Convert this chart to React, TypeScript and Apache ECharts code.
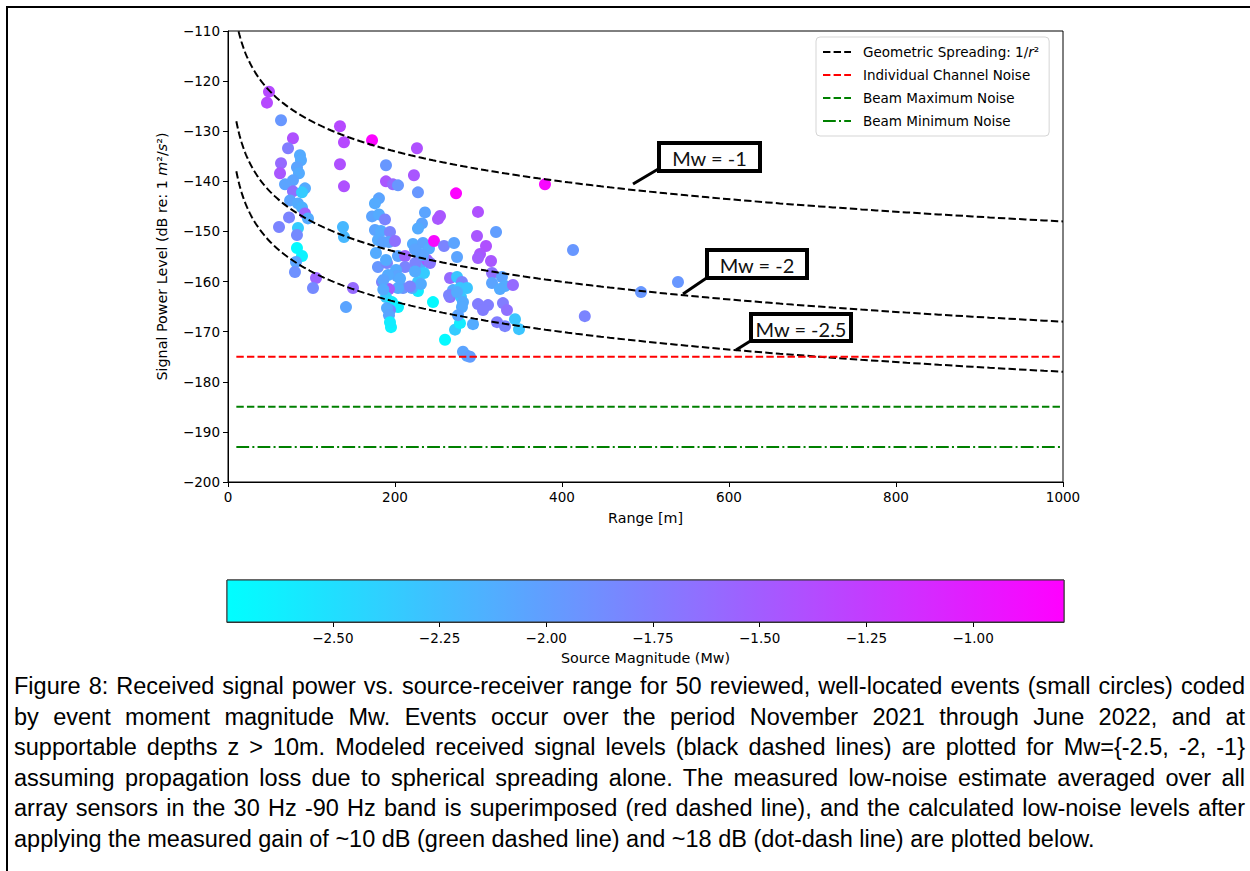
import React, { useEffect, useRef } from "react";
import * as echarts from "echarts";

// ---- event data (range in m, received level in dB, moment magnitude Mw) ----
const rangeM = [
  49.1, 46.7, 63.5, 77.8, 71.9, 86.2, 87.4, 63.5, 82.6, 62.3,
  85.0, 77.8, 68.3, 92.2, 77.8, 88.6, 74.3, 83.8, 88.6, 92.2,
  73.1, 95.8, 61.1, 83.8, 82.6, 82.6, 88.6, 81.4, 80.2, 105.4,
  101.8, 134.1, 138.9, 172.5, 134.1, 138.9, 137.7, 138.9, 149.7, 141.3,
  189.2, 189.2, 197.6, 203.6, 226.3, 222.7, 227.5, 273.1, 379.6, 180.8,
  176.0, 235.9, 172.5, 180.8, 188.0, 232.3, 227.5, 251.5, 253.9, 299.4,
  176.0, 183.2, 194.0, 179.6, 185.6, 192.8, 200.0, 221.5, 233.5, 240.7,
  246.7, 258.7, 270.7, 298.2, 321.0, 309.0, 301.8, 299.4, 315.0, 274.3,
  177.2, 179.6, 190.4, 203.6, 212.0, 227.5, 229.9, 238.3, 241.9, 234.7,
  227.5, 227.5, 220.3, 209.6, 203.6, 212.0, 201.2, 202.4, 191.6, 184.4,
  192.8, 189.2, 196.4, 203.6, 194.0, 190.4, 192.8, 195.2, 194.0, 245.5,
  259.9, 271.9, 277.8, 293.4, 265.9, 274.3, 280.2, 269.5, 277.8, 286.2,
  265.9, 279.0, 281.4, 280.2, 275.5, 299.4, 311.4, 305.4, 316.2, 328.1,
  316.2, 331.7, 325.7, 341.3, 329.3, 334.1, 322.2, 331.7, 343.7, 348.5,
  281.4, 286.2, 289.8, 413.2, 494.6, 538.9, 427.3, 224.3, 231.0, 264.7,
  274.3, 233.5, 189.2, 186.0, 206.0, 218.0, 186.0, 224.0, 224.0,
];
const levelDb = [
  -122.1, -124.3, -127.8, -131.4, -133.4, -134.8, -135.8, -136.4, -137.2, -138.4,
  -138.4, -139.8, -140.6, -141.4, -142.0, -142.2, -143.8, -144.4, -145.2, -146.4,
  -147.2, -147.4, -149.1, -149.3, -150.7, -153.3, -154.9, -156.1, -158.1, -159.3,
  -161.3, -129.0, -132.2, -131.8, -136.6, -141.0, -149.1, -151.1, -161.3, -165.1,
  -136.8, -140.0, -140.6, -140.8, -133.4, -138.8, -142.2, -142.4, -140.6, -143.4,
  -144.4, -146.2, -147.0, -146.6, -147.6, -148.4, -149.4, -147.5, -146.9, -146.1,
  -149.7, -149.9, -150.1, -151.7, -152.1, -152.1, -151.9, -152.5, -152.3, -153.4,
  -151.9, -152.9, -152.3, -150.9, -150.1, -152.9, -154.5, -155.3, -155.9, -155.1,
  -154.3, -157.1, -156.3, -154.9, -154.9, -154.3, -156.7, -155.7, -156.3, -158.3,
  -160.1, -161.9, -161.3, -161.3, -161.3, -157.1, -157.7, -158.9, -158.7, -160.1,
  -161.5, -163.1, -164.1, -165.1, -165.7, -165.3, -166.7, -169.1, -168.1, -164.1,
  -171.6, -169.6, -168.3, -168.5, -159.3, -159.1, -160.1, -161.7, -161.3, -161.3,
  -163.1, -163.1, -164.1, -165.1, -166.7, -164.5, -164.7, -165.7, -158.3, -159.1,
  -160.3, -160.9, -161.5, -160.7, -164.3, -165.7, -168.1, -168.9, -167.5, -169.5,
  -174.0, -174.8, -175.0, -153.7, -162.1, -160.1, -166.9, -156.3, -160.5, -162.7,
  -162.1, -154.7, -155.7, -159.7, -159.4, -161.0, -161.6, -158.0, -153.6,
];
const magnitudeMw = [
  -1.35, -1.35, -1.95, -1.4, -1.75, -2.1, -2.1, -1.6, -2.05, -1.45,
  -2.1, -2.05, -2.05, -2.1, -1.65, -2.35, -2.05, -2.1, -2.15, -1.55,
  -1.8, -2.1, -1.8, -2.35, -1.85, -2.7, -2.65, -2.05, -1.9, -1.55,
  -1.85, -1.35, -1.35, -0.82, -1.4, -1.4, -2.2, -2.2, -1.6, -2.05,
  -1.95, -1.45, -1.6, -1.95, -1.4, -1.45, -1.95, -0.8, -0.85, -2.05,
  -2.1, -2.05, -2.05, -2.1, -1.8, -2.05, -2.1, -1.45, -1.45, -1.4,
  -2.05, -2.1, -1.8, -2.1, -2.05, -2.05, -1.65, -2.1, -2.05, -2.1,
  -0.85, -1.8, -2.05, -1.45, -2.0, -1.4, -1.45, -1.5, -1.45, -2.05,
  -2.1, -1.95, -1.8, -2.05, -1.55, -2.1, -2.1, -1.5, -1.7, -2.35,
  -2.3, -2.6, -2.1, -1.95, -2.1, -1.8, -2.1, -2.05, -2.1, -1.8,
  -1.5, -2.35, -2.6, -2.65, -1.8, -2.1, -2.05, -2.65, -2.6, -2.7,
  -2.7, -2.35, -2.6, -2.1, -1.6, -2.3, -1.8, -2.1, -2.3, -2.3,
  -1.65, -2.3, -2.1, -2.1, -2.05, -1.75, -1.75, -1.75, -1.65, -2.05,
  -2.05, -2.1, -2.1, -1.6, -1.75, -1.65, -1.75, -1.8, -2.3, -2.3,
  -2.05, -2.05, -2.0, -1.95, -1.95, -1.95, -1.8, -1.8, -2.1, -1.8,
  -2.1, -2.05, -2.1, -2.05, -2.1, -1.8, -2.1, -2.1, -2.05,
];

// ---- model curves: geometric spreading 1/r^2, level at r = 1 m per Mw ----
const modelMw = ["-1", "-2", "-2.5"];
const modelLevelAt1m = [-88, -108, -118];
const modelRangeStart = 10;
const modelRangeEnd = 1000;

// ---- noise levels (dB) ----
const noiseNames = ["Individual Channel Noise", "Beam Maximum Noise", "Beam Minimum Noise"];
const noiseLevels = [-175, -185, -193];
const noiseColors = ["#ff0000", "#008000", "#008000"];

// ---- axes / colorbar ----
const xMin = 0, xMax = 1000, xStep = 200;
const yMin = -200, yMax = -110, yStep = 10;
const cbMin = -2.748, cbMax = -0.787;
const cbTicks = [-2.5, -2.25, -2.0, -1.75, -1.5, -1.25, -1.0];

const captionLines = [
  "Figure 8: Received signal power vs. source-receiver range for 50 reviewed, well-located events (small circles) coded",
  "by event moment magnitude Mw. Events occur over the period November 2021 through June 2022, and at",
  "supportable depths z > 10m. Modeled received signal levels (black dashed lines) are plotted for Mw={-2.5, -2, -1}",
  "assuming propagation loss due to spherical spreading alone. The measured low-noise estimate averaged over all",
  "array sensors in the 30 Hz -90 Hz band is superimposed (red dashed line), and the calculated low-noise levels after",
  "applying the measured gain of ~10 dB (green dashed line) and ~18 dB (dot-dash line) are plotted below.",
];

const FONT = "DejaVu Sans";
const minusFmt = (v: number) => (v < 0 ? "\u2212" + String(Math.abs(v)) : String(v));
const minusFmt2 = (v: number) => (v < 0 ? "\u2212" : "") + Math.abs(v).toFixed(2);

function modelCurve(level: number) {
  const pts: number[][] = [];
  const n = 200;
  const l0 = Math.log10(modelRangeStart), l1 = Math.log10(modelRangeEnd);
  for (let i = 0; i <= n; i++) {
    const r = Math.pow(10, l0 + ((l1 - l0) * i) / n);
    pts.push([r, level - 20 * Math.log10(r)]);
  }
  return pts;
}

const DASH = [7.4, 3.2];
const DASHDOT = [12.8, 3.2, 2, 3.2];

function annotation(x: number, y: number, w: number, h: number, label: string, lx1: number, ly1: number, lx2: number, ly2: number) {
  return [
    {
      type: "line",
      z: 50,
      shape: { x1: lx1, y1: ly1, x2: lx2, y2: ly2 },
      style: { stroke: "#000", lineWidth: 3 },
    },
    {
      type: "rect",
      z: 51,
      shape: { x, y, width: w, height: h },
      style: { fill: "#fff", stroke: "#000", lineWidth: 4 },
    },
    {
      type: "text",
      z: 52,
      x: x + w / 2,
      y: y + h / 2 + 1,
      style: {
        text: label,
        fill: "#111",
        font: "20px Lato, 'Open Sans', sans-serif",
        align: "center",
        verticalAlign: "middle",
      },
    },
  ];
}

export default function App() {
  const ref = useRef<HTMLDivElement>(null);

  useEffect(() => {
    if (!ref.current) return;
    const chart = echarts.init(ref.current, undefined, { renderer: "svg" });

    const series: any[] = [];
    series.push({
      type: "scatter",
      name: "events",
      xAxisIndex: 0,
      yAxisIndex: 0,
      data: rangeM.map((r, i) => [r, levelDb[i], magnitudeMw[i]]),
      symbolSize: 12,
      z: 2,
      itemStyle: { opacity: 1 },
    });
    modelLevelAt1m.forEach((lv, i) => {
      series.push({
        type: "line",
        name: "Geometric Spreading",
        id: "model" + modelMw[i],
        xAxisIndex: 0,
        yAxisIndex: 0,
        data: modelCurve(lv),
        showSymbol: false,
        symbol: "none",
        z: 3,
        color: "#000",
        lineStyle: { color: "#000", width: 2, type: DASH },
      });
    });
    noiseLevels.forEach((lv, i) => {
      series.push({
        type: "line",
        name: noiseNames[i],
        xAxisIndex: 0,
        yAxisIndex: 0,
        data: [
          [modelRangeStart, lv],
          [modelRangeEnd, lv],
        ],
        showSymbol: false,
        symbol: "none",
        z: 3,
        color: noiseColors[i],
        lineStyle: { color: noiseColors[i], width: 2, type: i === 2 ? DASHDOT : DASH },
      });
    });
    series.push({
      type: "custom",
      name: "colorbar",
      xAxisIndex: 1,
      yAxisIndex: 1,
      data: [[cbMin, 0]],
      z: 2,
      renderItem: (_p: any, api: any) => {
        const p0 = api.coord([cbMin, 1]);
        const p1 = api.coord([cbMax, 0]);
        return {
          type: "rect",
          shape: { x: p0[0], y: p0[1], width: p1[0] - p0[0], height: p1[1] - p0[1] },
          style: {
            fill: new echarts.graphic.LinearGradient(0, 0, 1, 0, [
              { offset: 0, color: "#00ffff" },
              { offset: 1, color: "#ff00ff" },
            ]),
            stroke: "#333",
            lineWidth: 1,
          },
        };
      },
    });

    const option: any = {
      animation: false,
      textStyle: { fontFamily: FONT },
      grid: [
        { left: 228, top: 31, width: 835, height: 451, show: true, borderColor: "#000", borderWidth: 1, backgroundColor: "transparent" },
        { left: 227, top: 580, width: 837, height: 42, show: true, borderColor: "#333", borderWidth: 1, backgroundColor: "transparent" },
      ],
      xAxis: [
        {
          type: "value",
          gridIndex: 0,
          min: xMin,
          max: xMax,
          interval: xStep,
          name: "Range [m]",
          nameLocation: "middle",
          nameGap: 29,
          nameTextStyle: { fontSize: 14.3, color: "#000", fontFamily: FONT },
          axisLine: { show: true, onZero: false, lineStyle: { color: "#000", width: 1 } },
          axisTick: { show: true, length: 5, lineStyle: { color: "#000" } },
          axisLabel: { fontSize: 13.5, color: "#000", margin: 8, fontFamily: FONT, formatter: minusFmt },
          splitLine: { show: false },
        },
        {
          type: "value",
          gridIndex: 1,
          min: cbMin,
          max: cbMax,
          name: "Source Magnitude (Mw)",
          nameLocation: "middle",
          nameGap: 29,
          nameTextStyle: { fontSize: 14.3, color: "#000", fontFamily: FONT },
          axisLine: { show: true, onZero: false, lineStyle: { color: "#333", width: 1 } },
          axisTick: { show: true, length: 5, customValues: cbTicks, lineStyle: { color: "#000" } },
          axisLabel: { customValues: cbTicks, fontSize: 13.5, color: "#000", margin: 9, fontFamily: FONT, formatter: minusFmt2 },
          splitLine: { show: false },
        },
      ],
      yAxis: [
        {
          type: "value",
          gridIndex: 0,
          min: yMin,
          max: yMax,
          interval: yStep,
          name: "Signal Power Level (dB re: 1 {i|m}²/{i|s}²)",
          nameLocation: "middle",
          nameGap: 59,
          nameTextStyle: {
            fontSize: 14.3,
            color: "#000",
            fontFamily: FONT,
            rich: { i: { fontStyle: "italic", fontSize: 14.3, color: "#000", fontFamily: FONT } },
          },
          axisLine: { show: true, onZero: false, lineStyle: { color: "#000", width: 1 } },
          axisTick: { show: true, length: 5, lineStyle: { color: "#000" } },
          axisLabel: { fontSize: 13.5, color: "#000", margin: 8, fontFamily: FONT, formatter: minusFmt },
          splitLine: { show: false },
        },
        { type: "value", gridIndex: 1, min: 0, max: 1, show: false },
      ],
      visualMap: {
        type: "continuous",
        show: false,
        min: cbMin,
        max: cbMax,
        dimension: 2,
        seriesIndex: 0,
        inRange: { color: ["#00ffff", "#ff00ff"] },
      },
      legend: {
        data: ["Geometric Spreading", ...noiseNames],
        orient: "vertical",
        left: 816,
        top: 37,
        itemWidth: 28,
        itemHeight: 12,
        itemGap: 9,
        padding: [8, 10, 8, 6],
        borderColor: "#d5d5d5",
        borderWidth: 1,
        borderRadius: 4,
        backgroundColor: "#fff",
        selectedMode: false,
        itemStyle: { opacity: 0, borderWidth: 0 },
        formatter: (n: string) => (n === "Geometric Spreading" ? "Geometric Spreading: 1/{i|r}²" : n),
        textStyle: {
          fontSize: 13.5,
          color: "#000",
          fontFamily: FONT,
          padding: [0, 0, 0, 7],
          rich: { i: { fontStyle: "italic", fontSize: 13.5, color: "#000", fontFamily: FONT } },
        },
      },
      graphic: [
        ...annotation(659, 143, 101, 28, "Mw = -1", 633, 184, 660, 168),
        ...annotation(707, 250, 100, 28, "Mw = -2", 683, 294, 708, 277),
        ...annotation(751, 314, 100, 27, "Mw = -2.5", 736, 350, 752, 340),
      ],
      series,
    };

    chart.setOption(option);
    return () => chart.dispose();
  }, []);

  return (
    <>
      <div ref={ref} style={{ position: "absolute", left: 0, top: 0, width: 1250, height: 871 }} />
      <div
        style={{
          position: "absolute",
          left: 6,
          top: 6,
          width: 1244,
          height: 865,
          boxSizing: "border-box",
          borderTop: "2px solid #000",
          borderLeft: "2px solid #000",
          pointerEvents: "none",
        }}
      />
      <div
        style={{
          position: "absolute",
          left: 14,
          top: 671,
          width: 1231,
          fontFamily: "'Liberation Sans', Arial, sans-serif",
          fontSize: 23.5,
          color: "#000",
        }}
      >
        {captionLines.map((line, i) => (
          <div
            key={i}
            style={{
              height: 30.5,
              lineHeight: "30.5px",
              whiteSpace: "nowrap",
              textAlign: i < captionLines.length - 1 ? "justify" : "left",
              textAlignLast: i < captionLines.length - 1 ? "justify" : "left",
            }}
          >
            {line}
          </div>
        ))}
      </div>
    </>
  );
}
